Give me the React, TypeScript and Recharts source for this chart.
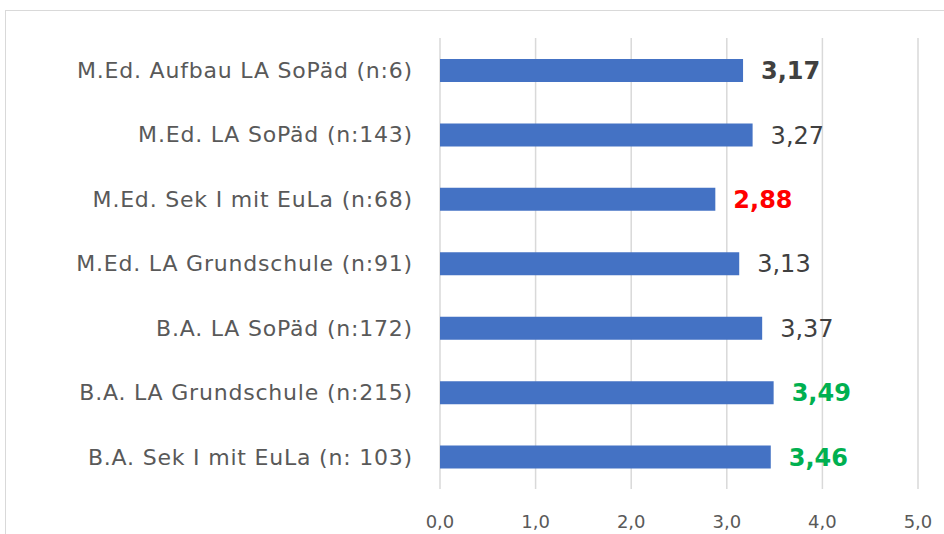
import { BarChart, Bar, XAxis, YAxis, CartesianGrid, LabelList } from "recharts";

const categories = [
  "M.Ed. Aufbau LA SoPäd (n:6)",
  "M.Ed. LA SoPäd (n:143)",
  "M.Ed. Sek I mit EuLa (n:68)",
  "M.Ed. LA Grundschule (n:91)",
  "B.A. LA SoPäd (n:172)",
  "B.A. LA Grundschule (n:215)",
  "B.A. Sek I mit EuLa (n: 103)",
];
const values = [3.17, 3.27, 2.88, 3.13, 3.37, 3.49, 3.46];
// how each value label is emphasised
const tones = ["strong", "plain", "low", "plain", "plain", "high", "high"];
const xTicks = [0, 1, 2, 3, 4, 5];

const data = categories.map((name, i) => ({ name, value: values[i], tone: tones[i] }));

const FONT = "'DejaVu Sans', sans-serif";

const toneStyle: Record<string, { fill: string; weight: number }> = {
  strong: { fill: "#404040", weight: 700 },
  plain: { fill: "#404040", weight: 400 },
  low: { fill: "#FF0000", weight: 700 },
  high: { fill: "#00B050", weight: 700 },
};

const fmt = (v: number, d: number) => v.toFixed(d).replace(".", ",");

function ValueLabel(props: any) {
  const { x, y, width, height, value, index } = props;
  const s = toneStyle[data[index].tone];
  return (
    <text
      x={x + width + 18}
      y={y + height / 2}
      dy="0.36em"
      fill={s.fill}
      fontWeight={s.weight}
      fontSize={24}
      fontFamily={FONT}
      textAnchor="start"
    >
      {fmt(value, 2)}
    </text>
  );
}

export default function App() {
  return (
    <div style={{ position: "absolute", left: 0, top: 0, width: 944, height: 534, overflow: "hidden", background: "#fff" }}>
      <div
        style={{
          position: "absolute",
          left: 5,
          top: 10,
          width: 1000,
          height: 600,
          border: "1px solid #d9d9d9",
        }}
      />
      <div style={{ position: "absolute", left: 0, top: 0 }}>
        <BarChart
          width={944}
          height={534}
          data={data}
          layout="vertical"
          margin={{ top: 38, right: 26, bottom: 0, left: 0 }}
        >
          <CartesianGrid horizontal={false} stroke="#d9d9d9" strokeWidth={1.5} />
          <XAxis
            type="number"
            domain={[0, 5]}
            ticks={xTicks}
            tickFormatter={(v: number) => fmt(v, 1)}
            axisLine={false}
            tickLine={false}
            height={45}
            tickMargin={20}
            tick={{ fill: "#595959", fontSize: 18, fontFamily: FONT }}
          />
          <YAxis
            type="category"
            dataKey="name"
            width={440}
            axisLine={false}
            tickLine={false}
            tickMargin={21}
            tick={{ fill: "#595959", fontSize: 22, fontFamily: FONT, letterSpacing: 0.8 }}
          />
          <Bar dataKey="value" fill="#4472C4" barSize={23} isAnimationActive={false}>
            <LabelList dataKey="value" content={ValueLabel} />
          </Bar>
        </BarChart>
      </div>
    </div>
  );
}
